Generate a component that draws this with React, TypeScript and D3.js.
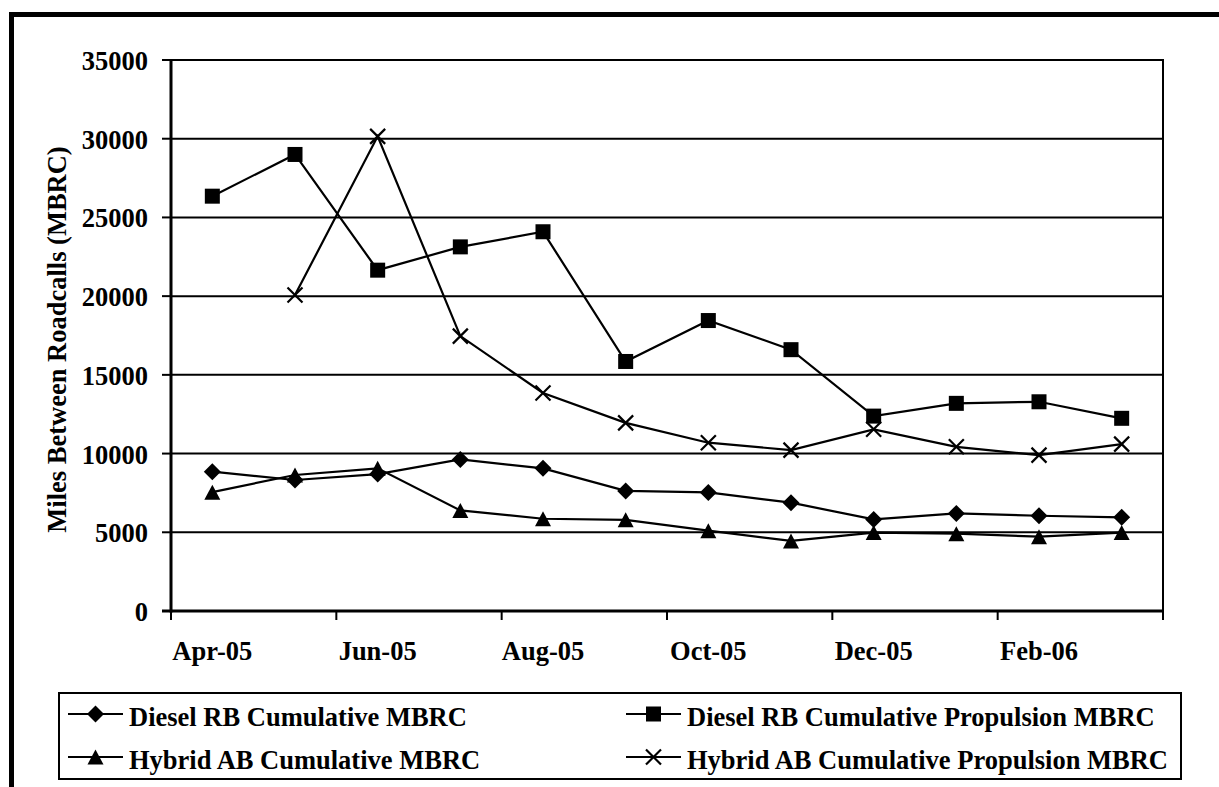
import React from "react";
import * as d3 from "d3";

const months = [
  "Apr-05", "May-05", "Jun-05", "Jul-05", "Aug-05", "Sep-05",
  "Oct-05", "Nov-05", "Dec-05", "Jan-06", "Feb-06", "Mar-06",
];
const dieselTotal = [8850, 8320, 8700, 9630, 9060, 7630, 7530, 6880, 5820, 6200, 6050, 5950];
const dieselProp = [26350, 29000, 21650, 23130, 24090, 15850, 18450, 16600, 12380, 13190, 13290, 12240];
const hybridTotal = [7550, 8640, 9060, 6390, 5860, 5790, 5100, 4450, 4980, 4910, 4720, 4980];
const hybridProp: (number | null)[] = [null, 20070, 30150, 17460, 13850, 11950, 10690, 10220, 11540, 10430, 9900, 10600];
const yTicks = [0, 5000, 10000, 15000, 20000, 25000, 30000, 35000];

type Marker = "diamond" | "square" | "triangle" | "x";

const series: { name: string; values: (number | null)[]; marker: Marker }[] = [
  { name: "Diesel RB Cumulative MBRC", values: dieselTotal, marker: "diamond" },
  { name: "Diesel RB Cumulative Propulsion MBRC", values: dieselProp, marker: "square" },
  { name: "Hybrid AB Cumulative MBRC", values: hybridTotal, marker: "triangle" },
  { name: "Hybrid AB Cumulative Propulsion MBRC", values: hybridProp, marker: "x" },
];

const W = 1219;
const H = 787;
const plot = { left: 171, right: 1163, top: 60, bottom: 611 };
const font = "'Liberation Serif', 'Times New Roman', serif";
const fs = 26.5;

// marker drawn around (0,0)
function MarkerShape({ type }: { type: Marker }) {
  if (type === "square") return <rect x={-7.5} y={-7.5} width={15} height={15} fill="#000" />;
  if (type === "diamond") return <path d="M0,-8.5L8.5,0L0,8.5L-8.5,0Z" fill="#000" />;
  if (type === "triangle") return <path d="M0,-7.5L8,7.5L-8,7.5Z" fill="#000" />;
  return (
    <g stroke="#000" strokeWidth={2.2}>
      <line x1={-7.5} y1={-7.5} x2={7.5} y2={7.5} />
      <line x1={-7.5} y1={7.5} x2={7.5} y2={-7.5} />
    </g>
  );
}

export default function App() {
  const x = d3.scaleBand<string>().domain(months).range([plot.left, plot.right]).padding(0);
  const y = d3.scaleLinear().domain([0, 35000]).range([plot.bottom, plot.top]);
  const cx = (m: string) => (x(m) ?? 0) + x.bandwidth() / 2;

  const line = d3
    .line<{ m: string; v: number | null }>()
    .defined((d) => d.v !== null)
    .x((d) => cx(d.m))
    .y((d) => y(d.v as number));

  // ticks every two months plus end of axis
  const xTickPos = months
    .filter((_m, i) => i % 2 === 0)
    .map((m) => x(m) as number)
    .concat([plot.right]);

  const legendCols = [68, 626];
  const legendRows = [714, 757];

  return (
    <svg
      width={W}
      height={H}
      style={{ position: "absolute", left: 0, top: 0, background: "#fff" }}
      fontFamily={font}
      fontWeight="bold"
    >
      <rect x={0} y={0} width={W} height={H} fill="#fff" />
      {/* outer frame */}
      <line x1={11.5} y1={12} x2={11.5} y2={H} stroke="#000" strokeWidth={5} />
      <line x1={9} y1={14.5} x2={W} y2={14.5} stroke="#000" strokeWidth={5} />

      {/* gridlines and y ticks */}
      {yTicks.map((t) => (
        <g key={t}>
          {t > 0 && (
            <line x1={plot.left} x2={plot.right} y1={y(t)} y2={y(t)} stroke="#000" strokeWidth={2} />
          )}
          <line x1={plot.left - 9} x2={plot.left} y1={y(t)} y2={y(t)} stroke="#000" strokeWidth={2} />
          <text x={148} y={y(t) + 10} textAnchor="end" fontSize={fs}>
            {t}
          </text>
        </g>
      ))}
      <line x1={plot.right} x2={plot.right} y1={plot.top - 1} y2={plot.bottom} stroke="#000" strokeWidth={2} />
      <line x1={plot.left} x2={plot.left} y1={plot.top - 1} y2={plot.bottom + 1.5} stroke="#000" strokeWidth={3} />
      <line x1={plot.left - 9} x2={plot.right + 1} y1={plot.bottom} y2={plot.bottom} stroke="#000" strokeWidth={3} />

      {/* x ticks and labels */}
      {xTickPos.map((p, i) => (
        <line key={i} x1={p} x2={p} y1={plot.bottom} y2={plot.bottom + 9} stroke="#000" strokeWidth={2} />
      ))}
      {months
        .filter((_m, i) => i % 2 === 0)
        .map((m) => (
          <text key={m} x={cx(m)} y={660} textAnchor="middle" fontSize={fs}>
            {m}
          </text>
        ))}

      {/* y axis title */}
      <text
        transform={`translate(66,${(plot.top + plot.bottom) / 2 + 4}) rotate(-90)`}
        textAnchor="middle"
        fontSize={fs}
      >
        Miles Between Roadcalls (MBRC)
      </text>

      {/* series */}
      {series.map((s) => {
        const pts = months.map((m, i) => ({ m, v: s.values[i] }));
        return (
          <g key={s.name}>
            <path d={line(pts) ?? ""} fill="none" stroke="#000" strokeWidth={2.2} />
            {pts
              .filter((d) => d.v !== null)
              .map((d) => (
                <g key={d.m} transform={`translate(${cx(d.m)},${y(d.v as number)})`}>
                  <MarkerShape type={s.marker} />
                </g>
              ))}
          </g>
        );
      })}

      {/* legend */}
      <rect x={59} y={693} width={1122} height={86} fill="#fff" stroke="#000" strokeWidth={2} />
      {series.map((s, i) => {
        const lx = legendCols[i % 2];
        const ly = legendRows[Math.floor(i / 2)];
        return (
          <g key={s.name}>
            <line x1={lx} x2={lx + 55} y1={ly} y2={ly} stroke="#000" strokeWidth={2.2} />
            <g transform={`translate(${lx + 27.5},${ly})`}>
              <MarkerShape type={s.marker} />
            </g>
            <text x={lx + 61} y={ly + 11.5} fontSize={fs}>
              {s.name}
            </text>
          </g>
        );
      })}
    </svg>
  );
}
